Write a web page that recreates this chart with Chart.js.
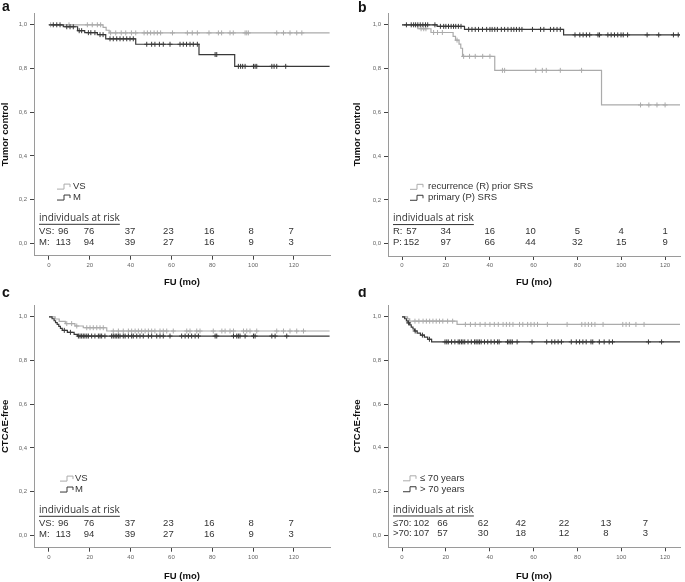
<!DOCTYPE html>
<html>
<head>
<meta charset="utf-8">
<script src="https://cdn.jsdelivr.net/npm/chart.js@4.4.1/dist/chart.umd.min.js"></script>
<style>
  body { margin: 0; background: #fff; }
  #wrap { position: relative; width: 685px; height: 582px; }
  canvas { position: absolute; }
</style>
</head>
<body>
<div id="wrap">
  <canvas id="pa" width="340" height="288" style="left:0;top:0"></canvas>
  <canvas id="pb" width="345" height="288" style="left:340px;top:0"></canvas>
  <canvas id="pc" width="340" height="294" style="left:0;top:288px"></canvas>
  <canvas id="pd" width="345" height="294" style="left:340px;top:288px"></canvas>
</div>
<script>
// ---- data ----
var xTicks = [0, 20, 40, 60, 80, 100, 120];
var yTicks = [0, 0.2, 0.4, 0.6, 0.8, 1.0];

// a: tumor control, VS vs M
var aVS_t = [0, 26.5, 28, 29.5];
var aVS_s = [1, 0.988, 0.975, 0.963];
var aVS_c = [0.8, 9.8, 18.8, 21.2, 23.7, 25.3, 30.2, 32.7, 35.4, 37.6, 40.4, 42.5, 46.6, 48.2, 49.8, 51.5, 53.1, 54.7, 60.5, 67.8, 70.2, 72.7, 78.4, 83, 84.6, 88.7, 90.3, 96.1, 96.9, 97.7, 111.6, 114.9, 118.1, 121.4, 123.9];
var aM_t = [0, 7, 14, 17.5, 23.7, 27.8, 42.5, 73.5, 91];
var aM_s = [1, 0.991, 0.973, 0.964, 0.955, 0.936, 0.911, 0.864, 0.81];
var aM_c = [2.1, 3.8, 5.4, 8.7, 10.3, 11.9, 14.8, 16, 19.3, 20.5, 22.5, 25, 26.5, 29.9, 31.5, 33.2, 34.8, 36.4, 38.1, 39.7, 41.3, 47.9, 50.3, 51.9, 54.1, 56, 59.3, 64.2, 65.8, 67.4, 69.1, 70.7, 72.7, 81.4, 82.2, 92.8, 93.9, 94.9, 96.1, 100.2, 101, 101.8, 109.2, 110.3, 111.6, 116];
var aRiskVS = [96, 76, 37, 23, 16, 8, 7];
var aRiskM = [113, 94, 39, 27, 16, 9, 3];

// b: tumor control, recurrence vs primary
var bR_t = [0, 7.2, 13.2, 23.3, 24.4, 26, 26.8, 27.6, 42.3, 91];
var bR_s = [1, 0.982, 0.965, 0.947, 0.93, 0.912, 0.893, 0.856, 0.792, 0.634];
var bR_c = [8.7, 9.9, 10.9, 14.4, 16.2, 18.4, 25.1, 28.1, 30.8, 33.4, 36.8, 40.1, 45.8, 46.8, 61, 64, 65.8, 72.2, 81.9, 108.8, 112.6, 116.3, 120];
var bP_t = [0, 16, 28.5, 73.7];
var bP_s = [1, 0.993, 0.979, 0.954];
var bP_c = [2, 4.2, 5.3, 6.2, 7.2, 8.3, 9.5, 10.7, 11.7, 15, 17.5, 19, 20, 21.2, 22.4, 23.5, 24.5, 25.7, 26.9, 30.4, 31.9, 33.4, 34.9, 36.7, 38.6, 40.1, 41.1, 42.3, 43.5, 45.3, 46.8, 48.3, 49.8, 51, 52.2, 53.5, 54.7, 59.5, 63.2, 64.7, 67.7, 69.2, 70.7, 72.2, 78.9, 81.1, 82.6, 84.1, 85.6, 89.4, 90.1, 93.9, 95.4, 96.9, 98.4, 99.9, 100.9, 102.9, 111.8, 117.1, 123.8, 126];
var bRiskR = [57, 34, 16, 10, 5, 4, 1];
var bRiskP = [152, 97, 66, 44, 32, 15, 9];

// c: CTCAE-free, VS vs M
var cVS_t = [0, 3, 5, 8, 12.7, 16.8, 28.3];
var cVS_s = [1, 0.99, 0.979, 0.969, 0.958, 0.95, 0.935];
var cVS_c = [8.7, 11.1, 13.6, 18.5, 20.1, 21.7, 23.4, 25, 26.6, 31.5, 34, 36.4, 38.9, 40.5, 42.2, 43.8, 45.4, 47.1, 48.7, 50.3, 51.9, 54.4, 56, 57.7, 60.9, 67.5, 69.1, 72.4, 74, 80.5, 84.7, 86.3, 88.7, 90.4, 95.3, 96.9, 98.5, 101.8, 111.6, 114.9, 118.1, 121.4, 124.7];
var cM_t = [0, 1.5, 2.5, 3.2, 4, 4.8, 5.6, 6.5, 9, 12.3, 14];
var cM_s = [1, 0.991, 0.982, 0.973, 0.965, 0.956, 0.947, 0.938, 0.929, 0.92, 0.912];
var cM_c = [7.5, 10.5, 14.4, 15.2, 16, 16.8, 17.6, 18.5, 19.3, 20.9, 22.5, 24.2, 25, 25.8, 27.4, 30.7, 31.5, 32.4, 33.2, 34, 34.8, 36.4, 37.3, 38.9, 40.5, 41.3, 43, 44.6, 46.2, 48.7, 50.3, 52.8, 54.4, 56, 59.3, 65, 66.7, 68.3, 69.9, 71.6, 73.2, 81.4, 82.2, 90.4, 92, 92.8, 93.6, 96.1, 100.2, 101, 109.2, 110.8, 116.5];
var cRiskVS = [96, 76, 37, 23, 16, 8, 7];
var cRiskM = [113, 94, 39, 27, 16, 9, 3];

// d: CTCAE-free, <=70 vs >70 years
var dLe_t = [0, 2.5, 3.5, 25.1];
var dLe_s = [1, 0.99, 0.98, 0.965];
var dLe_c = [5.9, 7.7, 9.6, 11.1, 12.6, 14.1, 15.6, 17.1, 18.6, 20.8, 23.1, 28.9, 31.2, 33.4, 35.6, 37.9, 40.1, 42.1, 43.9, 46.1, 47.6, 49.1, 50.6, 53.6, 55.1, 57.3, 58.8, 60.3, 61.8, 66.3, 75.3, 82, 83.5, 85, 86.5, 88, 91.7, 100.7, 102.2, 103.7, 106.7, 110.4];
var dGt_t = [0, 1.2, 2, 2.7, 3.5, 4.2, 5, 5.7, 6.9, 8.4, 10.2, 11.7, 13.5];
var dGt_s = [1, 0.991, 0.981, 0.972, 0.963, 0.953, 0.944, 0.935, 0.925, 0.916, 0.907, 0.897, 0.885];
var dGt_c = [3, 6, 9.3, 12.5, 19.6, 20.4, 21.1, 22.6, 24.1, 25.6, 26.3, 27.1, 27.8, 28.6, 30.1, 31.6, 33.1, 33.8, 34.6, 35.3, 36.1, 37.6, 39.1, 40.6, 42.1, 43.6, 44.3, 48.1, 48.8, 49.6, 50.3, 52.5, 59.3, 66, 68.3, 69.7, 71.2, 72.7, 77.2, 79.5, 81, 82.5, 84, 86.2, 87, 90, 92.2, 94.5, 96, 112.4, 118.4];
var dRiskLe = [102, 66, 62, 42, 22, 13, 7];
var dRiskGt = [107, 57, 30, 18, 12, 8, 3];

// ---- styling ----
var FONT = '"Liberation Sans", Arial, sans-serif';
var GRAY = '#ababab';
var DARK = '#383838';

function kmLine(times, surv, end) {
  var pts = times.map(function(t, i) { return {x: t, y: surv[i]}; });
  pts.push({x: end, y: surv[surv.length - 1]});
  return pts;
}
function survAt(times, surv, t) {
  var s = surv[0];
  for (var i = 0; i < times.length; i++) if (times[i] <= t) s = surv[i];
  return s;
}
function censPts(times, surv, cens) {
  return cens.map(function(t) { return {x: t, y: survAt(times, surv, t)}; });
}

// draws panel letter, legend and the at-risk table
var extras = {
  id: 'extras',
  afterDraw: function(chart, args, o) {
    var ctx = chart.ctx, xs = chart.scales.x, ys = chart.scales.y, ca = chart.chartArea;
    ctx.save();
    ctx.fillStyle = '#111';
    ctx.font = 'bold 14px ' + FONT;
    ctx.textAlign = 'left';
    ctx.textBaseline = 'alphabetic';
    ctx.fillText(o.letter, o.letterX, o.letterY);

    // legend
    ctx.font = '9.5px ' + FONT;
    ctx.textBaseline = 'middle';
    o.names.forEach(function(name, i) {
      var y = ys.getPixelForValue(i === 0 ? 0.26 : 0.21);
      var x0 = ca.left + o.iconDx;
      ctx.strokeStyle = i === 0 ? GRAY : DARK;
      ctx.lineWidth = 1;
      ctx.beginPath();
      ctx.moveTo(x0, y + 2.5); ctx.lineTo(x0 + 7, y + 2.5); ctx.lineTo(x0 + 7, y - 2.5);
      ctx.lineTo(x0 + 13, y - 2.5); ctx.lineTo(x0 + 13, y + 0.5);
      ctx.stroke();
      ctx.fillStyle = '#333';
      ctx.fillText(name, ca.left + o.textDx, y);
    });

    // individuals at risk
    var hx = ca.left + 5, hy = ys.getPixelForValue(0.115);
    ctx.font = '10px "Open Sans", ' + FONT;
    ctx.fillStyle = '#333';
    var head = 'individuals at risk';
    ctx.fillText(head, hx, hy);
    var w = ctx.measureText(head).width;
    ctx.strokeStyle = '#333';
    ctx.beginPath(); ctx.moveTo(hx, hy + 6); ctx.lineTo(hx + w, hy + 6); ctx.stroke();

    ctx.font = '9.5px ' + FONT;
    [o.risk0, o.risk1].forEach(function(row, r) {
      var y = ys.getPixelForValue(r === 0 ? 0.055 : 0.007);
      ctx.textAlign = 'left';
      ctx.fillText(o.rowLabels[r], hx, y);
      ctx.textAlign = 'center';
      row.forEach(function(n, j) {
        ctx.fillText(String(n), xs.getPixelForValue(o.cols[j]), y);
      });
    });
    ctx.restore();
  }
};

function makePanel(id, p) {
  var datasets = [
    {type: 'scatter', data: censPts(p.t1, p.s1, p.c1), pointStyle: 'cross', pointRadius: 2.5,
     borderColor: DARK, borderWidth: 1, backgroundColor: DARK},
    {type: 'line', data: kmLine(p.t1, p.s1, p.end), stepped: 'before', pointRadius: 0,
     borderColor: DARK, borderWidth: 1.2, fill: false},
    {type: 'scatter', data: censPts(p.t0, p.s0, p.c0), pointStyle: 'cross', pointRadius: 2.5,
     borderColor: GRAY, borderWidth: 1, backgroundColor: GRAY},
    {type: 'line', data: kmLine(p.t0, p.s0, p.end), stepped: 'before', pointRadius: 0,
     borderColor: GRAY, borderWidth: 1.2, fill: false}
  ];
  new Chart(document.getElementById(id), {
    data: {datasets: datasets},
    options: {
      responsive: false,
      animation: false,
      devicePixelRatio: 1,
      layout: {padding: p.pad},
      plugins: {
        legend: {display: false},
        tooltip: {enabled: false},
        extras: p.extras
      },
      scales: {
        x: {
          type: 'linear', min: p.xmin, max: p.xmax,
          afterBuildTicks: function(s) { s.ticks = xTicks.map(function(v) { return {value: v}; }); },
          afterFit: function(s) { s.height = p.xh; },
          grid: {drawOnChartArea: false, tickLength: 4, tickColor: '#444'},
          border: {color: '#9a9a9a'},
          ticks: {autoSkip: false, maxRotation: 0, padding: 2, color: '#666', font: {size: 6, family: FONT}},
          title: {display: true, text: 'FU (mo)', color: '#111', padding: 0,
                  font: {size: 9.5, weight: 'bold', family: FONT}}
        },
        y: {
          type: 'linear', min: -0.056, max: 1.054,
          afterBuildTicks: function(s) { s.ticks = yTicks.map(function(v) { return {value: v}; }); },
          afterFit: function(s) { s.width = p.yw; },
          grid: {drawOnChartArea: false, tickLength: 4, tickColor: '#444'},
          border: {color: '#9a9a9a'},
          ticks: {autoSkip: false, padding: 3, color: '#666', font: {size: 6, family: FONT},
                  callback: function(v) { return v.toFixed(1).replace('.', ','); }},
          title: {display: true, text: p.ytitle, color: '#111', padding: 0,
                  font: {size: 9.5, weight: 'bold', family: FONT}}
        }
      }
    },
    plugins: [extras]
  });
}

makePanel('pa', {
  t0: aVS_t, s0: aVS_s, c0: aVS_c, t1: aM_t, s1: aM_s, c1: aM_c, end: 137.5,
  xmin: -7.35, xmax: 137.7, xh: 32.3, yw: 34, pad: {left: 0, top: 13, right: 10, bottom: 0},
  ytitle: 'Tumor control',
  extras: {letter: 'a', letterX: 2, letterY: 11, names: ['VS', 'M'], iconDx: 23, textDx: 39,
           rowLabels: ['VS:', 'M:'], risk0: aRiskVS, risk1: aRiskM,
           cols: [7, 19.6, 39.7, 58.5, 78.5, 99, 118.6]}
});
makePanel('pb', {
  t0: bR_t, s0: bR_s, c0: bR_c, t1: bP_t, s1: bP_s, c1: bP_c, end: 126.8,
  xmin: -6.4, xmax: 126.8, xh: 32, yw: 36, pad: {left: 12, top: 13, right: 0, bottom: 0},
  ytitle: 'Tumor control',
  extras: {letter: 'b', letterX: 18, letterY: 12, names: ['recurrence (R) prior SRS', 'primary (P) SRS'],
           iconDx: 22, textDx: 40, rowLabels: ['R:', 'P:'], risk0: bRiskR, risk1: bRiskP,
           cols: [4.3, 20, 40, 58.6, 80, 100, 120]}
});
makePanel('pc', {
  t0: cVS_t, s0: cVS_s, c0: cVS_c, t1: cM_t, s1: cM_s, c1: cM_c, end: 137.5,
  xmin: -7.35, xmax: 137.7, xh: 34.3, yw: 34, pad: {left: 0, top: 17, right: 10, bottom: 0},
  ytitle: 'CTCAE-free',
  extras: {letter: 'c', letterX: 2, letterY: 9, names: ['VS', 'M'], iconDx: 26, textDx: 41,
           rowLabels: ['VS:', 'M:'], risk0: cRiskVS, risk1: cRiskM,
           cols: [7, 19.6, 39.7, 58.5, 78.5, 99, 118.6]}
});
makePanel('pd', {
  t0: dLe_t, s0: dLe_s, c0: dLe_c, t1: dGt_t, s1: dGt_s, c1: dGt_c, end: 126.8,
  xmin: -6.4, xmax: 126.8, xh: 34.7, yw: 36, pad: {left: 12, top: 17, right: 0, bottom: 0},
  ytitle: 'CTCAE-free',
  extras: {letter: 'd', letterX: 18, letterY: 9, names: ['\u2264 70 years', '> 70 years'],
           iconDx: 15, textDx: 32, rowLabels: ['\u226470:', '>70:'], risk0: dRiskLe, risk1: dRiskGt,
           cols: [8.8, 18.5, 37, 54.2, 73.9, 93, 111]}
});
</script>
</body>
</html>
